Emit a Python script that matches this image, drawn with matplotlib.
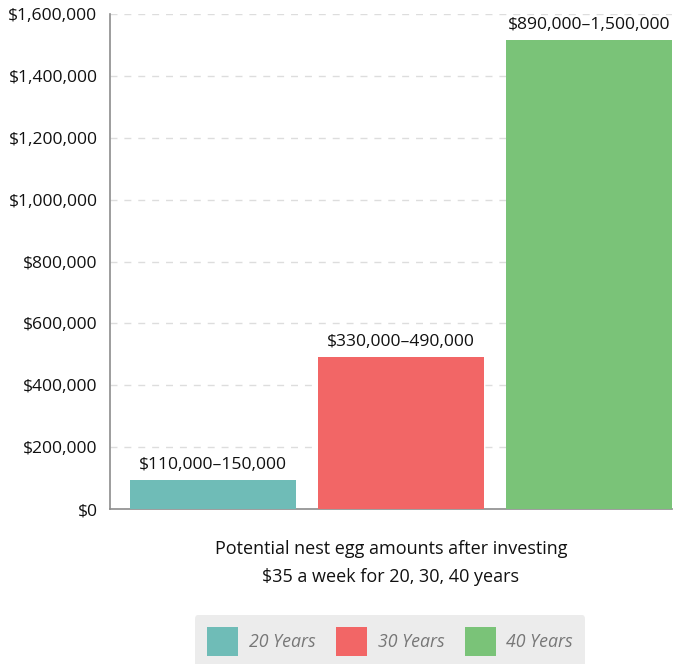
import matplotlib.pyplot as plt
from matplotlib.patches import Patch
from matplotlib.ticker import FuncFormatter

plt.rcParams['font.family'] = ['Open Sans', 'DejaVu Sans']

# values
categories = ["20 Years", "30 Years", "40 Years"]
bar_heights = [94000, 492000, 1515000]
bar_labels = ["$110,000\u2013150,000", "$330,000\u2013490,000", "$890,000\u20131,500,000"]
y_ticks = [0, 200000, 400000, 600000, 800000, 1000000, 1200000, 1400000, 1600000]
colors = ["#6fbcb7", "#f26666", "#7ac378"]

fig = plt.figure(figsize=(6.73, 6.64), dpi=100)
ax = fig.add_axes([0.1634, 0.2334, 0.835, 0.7455])

x = list(range(len(categories)))
bars = ax.bar(x, bar_heights, width=0.883, color=colors, zorder=3)

for b, lab in zip(bars, bar_labels):
    ax.annotate(lab, (b.get_x() + b.get_width() / 2, b.get_height()),
                xytext=(0, 5), textcoords="offset points",
                ha="center", va="bottom", fontsize=12.6, color="#111111", zorder=4)

ax.set_xlim(-0.548, 2.443)
ax.set_ylim(0, 1600000)
ax.set_yticks(y_ticks)
ax.yaxis.set_major_formatter(FuncFormatter(lambda v, p: f"${v:,.0f}"))
ax.set_xticks([])
ax.tick_params(axis="y", length=0, pad=9, labelsize=12.6, labelcolor="#111111")
ax.grid(axis="y", linestyle=(0, (5, 5)), color="#dddddd", linewidth=1, zorder=0)

for side in ["top", "right"]:
    ax.spines[side].set_visible(False)
for side in ["left", "bottom"]:
    ax.spines[side].set_color("#8c8c8c")
    ax.spines[side].set_linewidth(1.2)

ax.set_xlabel("Potential nest egg amounts after investing\n$35 a week for 20, 30, 40 years",
              fontsize=13, color="#111111", linespacing=1.75, labelpad=22)

handles = [Patch(facecolor=c, edgecolor="none") for c in colors]
leg = fig.legend(handles, categories, loc="upper center",
                 bbox_to_anchor=(390 / 673, 1 - 615 / 664), ncol=3,
                 frameon=True, fancybox=True, facecolor="#ececec", edgecolor="none",
                 framealpha=1, handlelength=1.75, handleheight=2.1,
                 columnspacing=1.15, handletextpad=0.6, borderpad=0.7,
                 borderaxespad=0,
                 prop={"size": 12.8, "style": "italic"})
for t in leg.get_texts():
    t.set_color("#777777")

fig.savefig("out.png", dpi=100)
